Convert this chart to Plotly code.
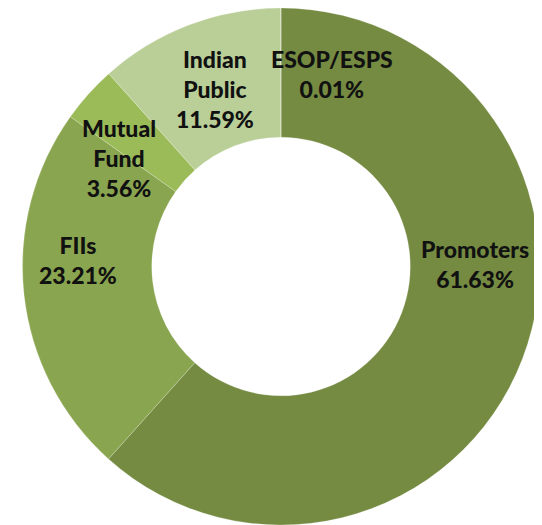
import plotly.graph_objects as go

categories = ["Promoters", "FIIs", "Mutual Fund", "Indian Public", "ESOP/ESPS"]
label_text = ["Promoters", "FIIs", "Mutual<br>Fund", "Indian<br>Public", "ESOP/ESPS"]
shares = [61.63, 23.21, 3.56, 11.59, 0.01]
colors = ["#758B42", "#89A54F", "#9BBB59", "#BACF98", "#D7E4BD"]

# label centre positions in window pixels (x from left, y from top)
label_px = [(475, 264), (78, 260), (119, 158), (215, 89), (332, 74)]

OFF = 8  # page body margin
W, H = 542 - OFF, 525 - OFF

cx, cy, r = 281 - OFF, 266.5 - OFF, 258.5

fig = go.Figure(go.Pie(
    labels=categories,
    values=shares,
    hole=0.5,
    sort=False,
    direction="clockwise",
    rotation=0,
    marker=dict(colors=colors, line=dict(color="rgba(255,255,255,0.35)", width=0.6)),
    textinfo="none",
    hoverinfo="label+percent",
    domain=dict(x=[(cx - r) / W, (cx + r) / W], y=[0, 1]),
    showlegend=False,
))

annotations = []
for txt, val, (px, py) in zip(label_text, shares, label_px):
    annotations.append(dict(
        x=(px - OFF) / W, y=1 - (py - OFF) / H, xref="paper", yref="paper",
        text=f"{txt}<br>{val:.2f}%",
        showarrow=False, xanchor="center", yanchor="middle",
        font=dict(family="Lato", size=23, color="#111111", weight=900),
    ))

fig.update_layout(
    width=W, height=H,
    margin=dict(l=0, r=0, t=0, b=0),
    paper_bgcolor="white", plot_bgcolor="white",
    annotations=annotations,
)

fig.write_html("out.html")
